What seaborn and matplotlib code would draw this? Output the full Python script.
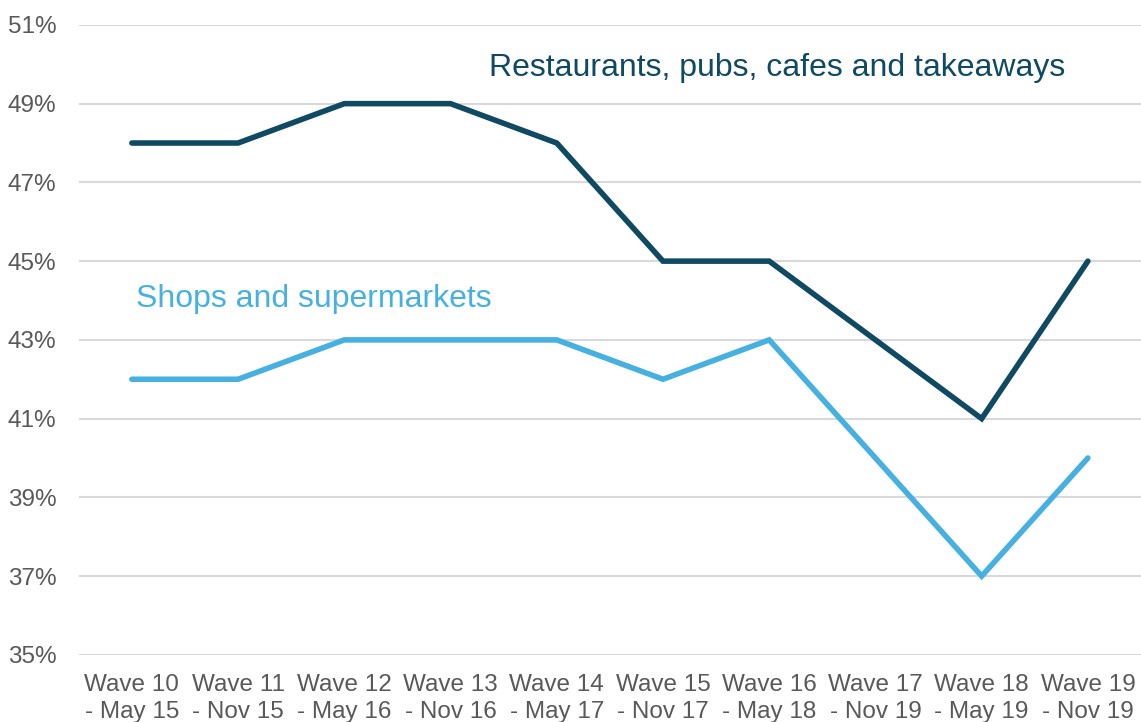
import pandas as pd
import matplotlib.pyplot as plt
import seaborn as sns

# Chart data
waves = ['Wave 10\n- May 15', 'Wave 11\n- Nov 15', 'Wave 12\n- May 16', 'Wave 13\n- Nov 16',
         'Wave 14\n- May 17', 'Wave 15\n- Nov 17', 'Wave 16\n- May 18', 'Wave 17\n- Nov 19',
         'Wave 18\n- May 19', 'Wave 19\n- Nov 19']
restaurants = [48, 48, 49, 49, 48, 45, 45, 43, 41, 45]
shops = [42, 42, 43, 43, 43, 42, 43, 40, 37, 40]
y_ticks = [35, 37, 39, 41, 43, 45, 47, 49, 51]

dark = '#0f4a62'
light = '#46b1e1'

df = pd.DataFrame({
    'x': list(range(len(waves))) * 2,
    'value': restaurants + shops,
    'series': ['Restaurants, pubs, cafes and takeaways'] * len(waves) + ['Shops and supermarkets'] * len(waves),
})

sns.set_style('white')
plt.rcParams['font.family'] = ['Liberation Sans', 'DejaVu Sans']

fig = plt.figure(figsize=(11.41, 7.22), dpi=100)
ax = fig.add_axes([0.069, 0.093, 0.931, 0.8725])

sns.lineplot(data=df, x='x', y='value', hue='series',
             palette=[dark, light], linewidth=4, legend=False, ax=ax,
             solid_capstyle='round', solid_joinstyle='miter')

ax.set_xlim(-0.5, len(waves) - 0.5)
ax.set_ylim(35, 51)
ax.set_yticks(y_ticks)
ax.set_yticklabels([f'{v}%' for v in y_ticks])
ax.set_xticks(range(len(waves)))
ax.set_xticklabels(waves)
ax.grid(axis='y', color='#d9d9d9', linewidth=1.5)
ax.set_axisbelow(True)
ax.set_xlabel('')
ax.set_ylabel('')
sns.despine(ax=ax, left=True, bottom=True, top=True, right=True)
ax.tick_params(axis='both', length=0, labelsize=17.5, colors='#595959')
ax.tick_params(axis='x', pad=14)
ax.tick_params(axis='y', pad=16)
for lbl in ax.get_xticklabels():
    lbl.set_linespacing(1.3)

ax.text(3.36, 49.9, 'Restaurants, pubs, cafes and takeaways', color=dark,
        fontsize=23, va='center', ha='left')
ax.text(0.04, 44.04, 'Shops and supermarkets', color=light,
        fontsize=23, va='center', ha='left')

fig.savefig('out.png', dpi=100)
